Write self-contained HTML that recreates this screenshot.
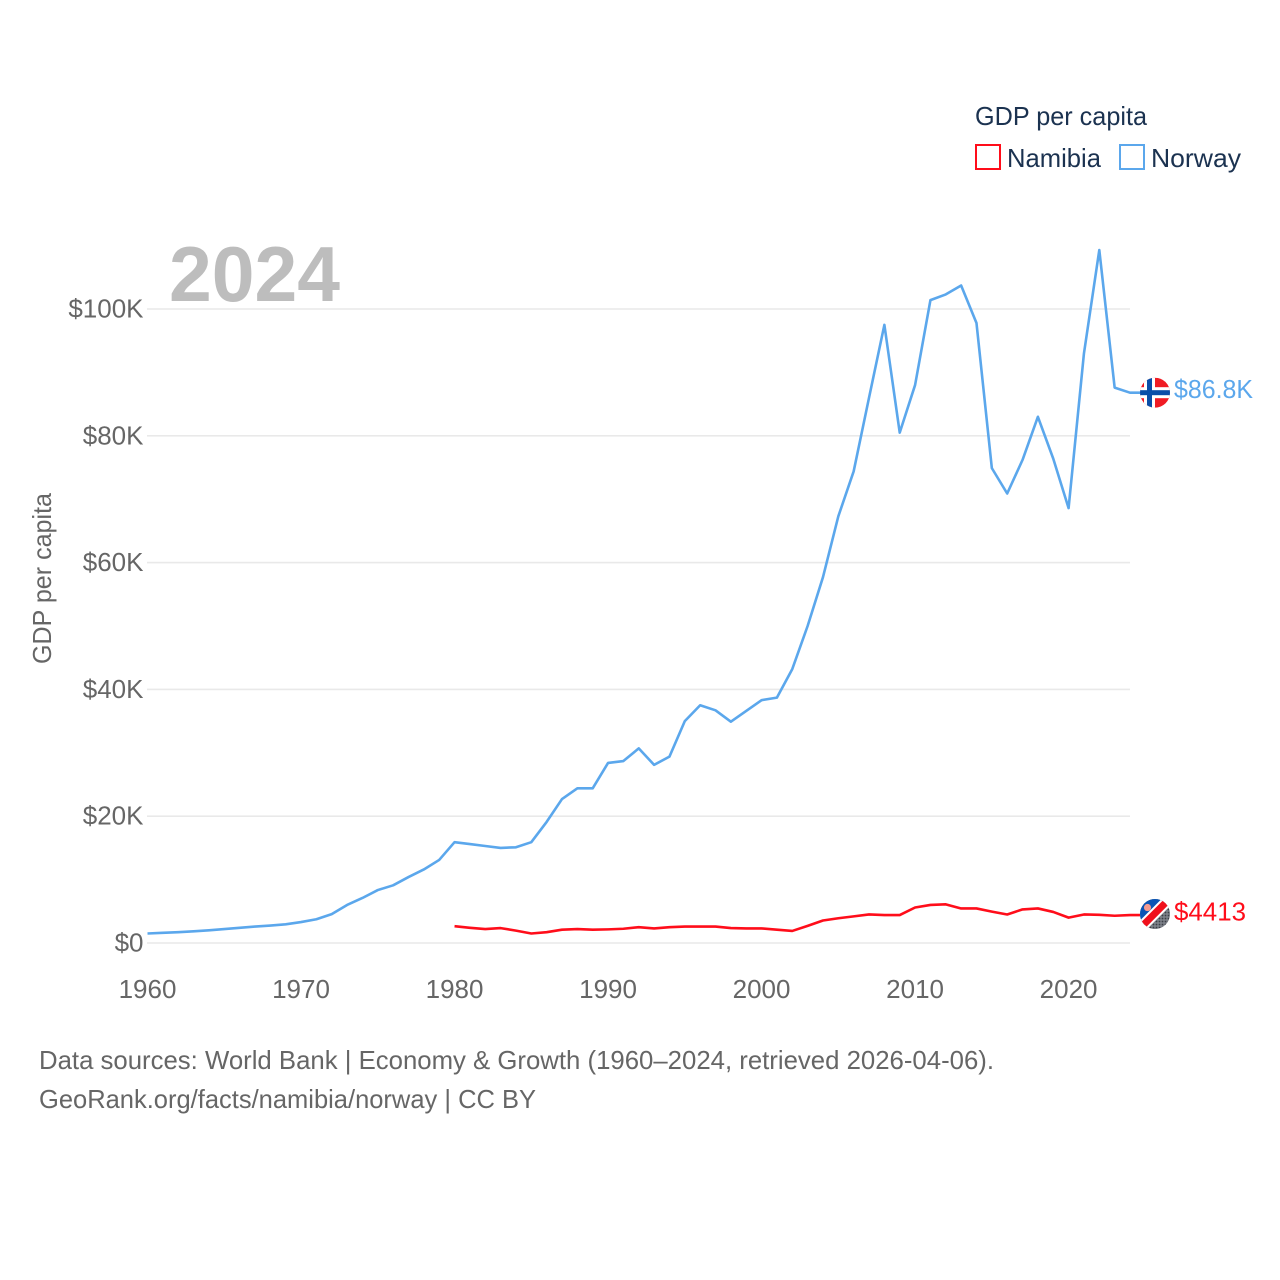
<!DOCTYPE html>
<html lang="en">
<head>
<meta charset="utf-8">
<title>GDP per capita: Namibia and Norway</title>
<style>
html,body{margin:0;padding:0;background:#fff;width:1280px;height:1280px;overflow:hidden}
svg{display:block}
text{font-family:"Liberation Sans",sans-serif;font-size:26px}
</style>
</head>
<body>
<svg id="chart" width="1280" height="1280" viewBox="0 0 1280 1280" xmlns="http://www.w3.org/2000/svg">
  <defs>
    <clipPath id="flag-clip"><circle cx="0" cy="0" r="15"/></clipPath>
    <pattern id="dots" width="3" height="3" patternUnits="userSpaceOnUse">
      <rect width="3" height="3" fill="#7c8088"/><circle cx="1.5" cy="1.5" r="0.9" fill="#3c3f46"/>
    </pattern>
  </defs>
  <rect width="1280" height="1280" fill="#fff"/>

  <g id="grid"></g>
  <g id="y-ticks"></g>
  <g id="x-ticks"></g>

  <text x="169" y="301" fill="#bdbdbd" font-weight="700" style="font-size:78px" textLength="171" lengthAdjust="spacingAndGlyphs">2024</text>
  <text transform="translate(51,664) rotate(-90)" fill="#666" textLength="171" lengthAdjust="spacingAndGlyphs">GDP per capita</text>

  <path id="line-norway" fill="none" stroke="#5ba7ec" stroke-width="2.6" stroke-linejoin="round"/>
  <path id="line-namibia" fill="none" stroke="#ff0d1a" stroke-width="2.6" stroke-linejoin="round"/>

  <g id="marker-norway">
    <g transform="translate(1155,0)" clip-path="url(#flag-clip)">
      <rect x="-15" y="-15" width="30" height="30" fill="#f01c24"/>
      <rect x="-11" y="-15" width="11" height="30" fill="#fff"/>
      <rect x="-15" y="-5.5" width="30" height="11" fill="#fff"/>
      <rect x="-8" y="-15" width="5" height="30" fill="#0a4ea8"/>
      <rect x="-15" y="-2.5" width="30" height="5" fill="#0a4ea8"/>
    </g>
    <text id="label-norway" x="1174" y="5.5" fill="#5ba7ec" textLength="79" lengthAdjust="spacingAndGlyphs"></text>
  </g>
  <g id="marker-namibia">
    <g transform="translate(1155,-1)" clip-path="url(#flag-clip)">
      <rect x="-15" y="-15" width="30" height="30" fill="url(#dots)"/>
      <polygon points="-15,-15 15,-15 -15,15" fill="#0a55b5"/>
      <rect x="-25" y="-6" width="50" height="11" fill="#fff" transform="rotate(-45)"/>
      <rect x="-25" y="-4" width="50" height="7" fill="#f0101c" transform="rotate(-45)"/>
      <circle cx="-7.5" cy="-6.5" r="3.6" fill="#f59a8f"/>
    </g>
    <text id="label-namibia" x="1174" y="5.5" fill="#ff0d1a" textLength="72" lengthAdjust="spacingAndGlyphs"></text>
  </g>

  <g>
    <text x="975" y="125" fill="#1b3250" textLength="172" lengthAdjust="spacingAndGlyphs">GDP per capita</text>
    <g>
      <rect x="976" y="145" width="24" height="24" fill="#fff" stroke="#ff0d1a" stroke-width="2"/>
      <text x="1007" y="167" fill="#1b3250" textLength="94" lengthAdjust="spacingAndGlyphs">Namibia</text>
    </g>
    <g>
      <rect x="1120" y="145" width="24" height="24" fill="#fff" stroke="#5ba7ec" stroke-width="2"/>
      <text x="1151" y="167" fill="#1b3250" textLength="90" lengthAdjust="spacingAndGlyphs">Norway</text>
    </g>
  </g>

  <text x="39" y="1069" fill="#666" textLength="955" lengthAdjust="spacingAndGlyphs">Data sources: World Bank | Economy &amp; Growth (1960–2024, retrieved 2026-04-06).</text>
  <text x="39" y="1108" fill="#666" textLength="497" lengthAdjust="spacingAndGlyphs">GeoRank.org/facts/namibia/norway | CC BY</text>
</svg>
<script>
const years = [1960,1961,1962,1963,1964,1965,1966,1967,1968,1969,1970,1971,1972,1973,1974,1975,1976,1977,1978,1979,1980,1981,1982,1983,1984,1985,1986,1987,1988,1989,1990,1991,1992,1993,1994,1995,1996,1997,1998,1999,2000,2001,2002,2003,2004,2005,2006,2007,2008,2009,2010,2011,2012,2013,2014,2015,2016,2017,2018,2019,2020,2021,2022,2023,2024];
const norwayValues = [1.5,1.6,1.7,1.85,2.0,2.2,2.4,2.6,2.75,2.95,3.3,3.75,4.55,6.0,7.1,8.35,9.1,10.4,11.6,13.1,15.9,15.6,15.3,15.0,15.1,15.9,19.1,22.7,24.4,24.4,28.4,28.7,30.7,28.1,29.4,35.0,37.5,36.7,34.9,36.6,38.3,38.7,43.2,50.0,57.7,67.3,74.4,86.0,97.5,80.5,88.0,101.4,102.3,103.7,97.8,74.9,70.9,76.2,83.0,76.4,68.6,93.0,109.3,87.6,86.8];
const namibiaValues = [null,null,null,null,null,null,null,null,null,null,null,null,null,null,null,null,null,null,null,null,2.65,2.4,2.2,2.35,1.95,1.5,1.7,2.1,2.2,2.1,2.15,2.25,2.5,2.3,2.5,2.6,2.6,2.6,2.35,2.3,2.3,2.1,1.9,2.7,3.55,3.9,4.2,4.5,4.4,4.4,5.6,6.0,6.1,5.45,5.45,4.95,4.5,5.3,5.45,4.9,4.0,4.5,4.45,4.3,4.413];
const yTickValues = [0,20,40,60,80,100];
const yTickLabels = ["$0","$20K","$40K","$60K","$80K","$100K"];
const xTickValues = [1960,1970,1980,1990,2000,2010,2020];
const xTickLabels = ["1960","1970","1980","1990","2000","2010","2020"];
const norwayEndLabel = "$86.8K";
const namibiaEndLabel = "$4413";

const SVG_NS = "http://www.w3.org/2000/svg";
function xScale(year) { return 147.5 + (year - 1960) * (1130 - 147.5) / 64; }
function yScale(value) { return 943 - value * (943 - 309) / 100; }

function linePath(values) {
  let d = "";
  let lastX = 0, lastY = 0;
  values.forEach(function (v, i) {
    if (v === null) return;
    lastX = xScale(years[i]);
    lastY = yScale(v);
    d += (d ? "L" : "M") + lastX.toFixed(2) + " " + lastY.toFixed(2);
  });
  d += "L" + (lastX + 10) + " " + lastY.toFixed(2);
  return { d: d, endY: lastY };
}

const gridGroup = document.getElementById("grid");
const yTickGroup = document.getElementById("y-ticks");
yTickValues.forEach(function (v, i) {
  const line = document.createElementNS(SVG_NS, "line");
  
  
  line.setAttribute("x1", 147);
  line.setAttribute("x2", 1130);
  line.setAttribute("y1", yScale(v));
  line.setAttribute("y2", yScale(v));
  line.setAttribute("stroke", "#e9e9e9");
  line.setAttribute("stroke-width", 1.6);
  gridGroup.appendChild(line);

  const label = document.createElementNS(SVG_NS, "text");
  
  
  label.setAttribute("x", 143.5);
  label.setAttribute("y", yScale(v) + 8.5);
  label.setAttribute("text-anchor", "end");
  label.setAttribute("fill", "#666");
  label.textContent = yTickLabels[i];
  yTickGroup.appendChild(label);
});

const xTickGroup = document.getElementById("x-ticks");
xTickValues.forEach(function (v, i) {
  const label = document.createElementNS(SVG_NS, "text");
  
  
  label.setAttribute("x", xScale(v));
  label.setAttribute("y", 998);
  label.setAttribute("text-anchor", "middle");
  label.setAttribute("fill", "#666");
  label.textContent = xTickLabels[i];
  xTickGroup.appendChild(label);
});

const norwayLine = linePath(norwayValues);
const namibiaLine = linePath(namibiaValues);
document.getElementById("line-norway").setAttribute("d", norwayLine.d);
document.getElementById("line-namibia").setAttribute("d", namibiaLine.d);
document.getElementById("marker-norway").setAttribute("transform", "translate(0," + norwayLine.endY + ")");
document.getElementById("marker-namibia").setAttribute("transform", "translate(0," + namibiaLine.endY + ")");
document.getElementById("label-norway").textContent = norwayEndLabel;
document.getElementById("label-namibia").textContent = namibiaEndLabel;
</script>
</body>
</html>
